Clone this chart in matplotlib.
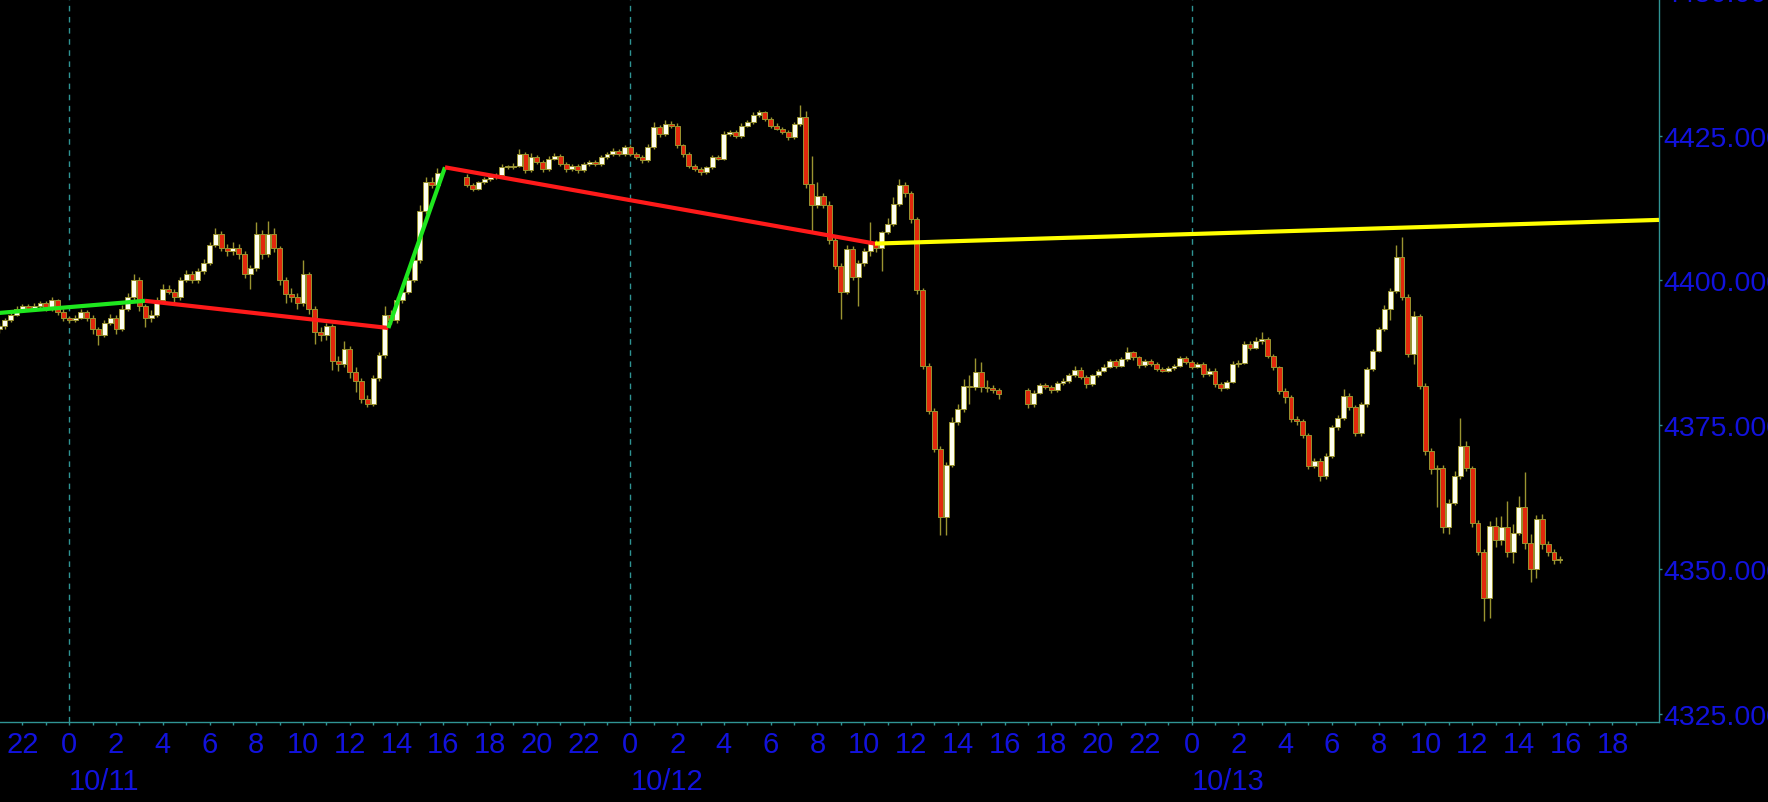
import numpy as np
import matplotlib
matplotlib.use("Agg")
import matplotlib.pyplot as plt
from matplotlib.ticker import FixedLocator, MultipleLocator, FuncFormatter, FormatStrFormatter

# ---------------- data (x in hours from 10/11 00:00, 15-minute candles) ----------------
session_starts = [-3.0, 17.0, 41.0]
bar_hours = 0.25

open_A0 = 4391.5
close_A = [4392.0, 4393.0, 4394.0, 4395.0, 4395.5, 4395.0, 4395.5, 4396.0, 4395.0, 4396.5,
           4394.5, 4393.5, 4393.0, 4393.5, 4394.5, 4393.5, 4391.5, 4390.5, 4392.5, 4393.5,
           4391.5, 4395.0, 4397.0, 4400.0, 4395.5, 4393.5, 4394.0, 4396.5, 4398.5, 4398.0,
           4397.0, 4400.0, 4401.0, 4400.0, 4401.5, 4403.0, 4406.0, 4408.0, 4405.5, 4405.0,
           4405.5, 4404.5, 4401.0, 4402.0, 4408.0, 4404.5, 4408.0, 4405.5, 4400.0, 4397.5,
           4397.0, 4396.0, 4401.0, 4395.0, 4391.0, 4390.5, 4392.0, 4386.0, 4385.5, 4388.0,
           4384.0, 4382.5, 4379.5, 4378.5, 4383.0, 4387.0, 4394.0, 4393.0, 4396.5, 4398.0,
           4400.0, 4403.5, 4412.0, 4417.0, 4416.5, 4418.5]
up_A = [.5, .4, .4, .5, .4, .3, .5, .4, .3, .6,
        .3, .4, .3, .4, .5, .3, .4, .4, .5, .6,
        .5, .6, .8, 1.0, .5, .4, .8, .5, .8, .6,
        .4, .6, .8, .5, .5, .6, .6, 1.0, .5, .8,
        1.0, .8, .5, .6, 2.0, .6, 2.2, 1.0, .4, .5,
        1.2, .8, 2.5, .4, .5, .8, .6, .4, .8, 1.5,
        .5, 1.0, .5, .6, .5, .6, 1.5, .8, .6, 1.0,
        .6, .8, 1.0, .8, .8, .8]
dn_A = [.6, .5, .3, .3, .5, .4, .3, .3, .4, .3,
        .5, .6, .5, .3, .3, .6, .8, 1.8, .4, .3,
        .8, .4, .3, .4, .8, 1.6, .8, .4, .3, .5,
        1.0, .4, .4, .6, .5, .4, .4, .3, .5, .8,
        .6, .8, .6, 2.5, .4, .8, .5, .6, .8, 1.5,
        .8, 1.0, .5, .8, 2.0, 1.0, .8, 1.5, 1.2, .5,
        1.0, 1.8, .8, .5, .3, .5, .5, .6, .4, .5,
        .4, .4, .5, .5, .5, .4]

open_B0 = 4417.8
close_B = [4416.4, 4415.8, 4416.9, 4417.5, 4417.8, 4418.2, 4419.5, 4419.5, 4419.8, 4421.8,
           4419.0, 4421.3, 4420.4, 4419.2, 4421.0, 4421.5, 4420.1, 4419.2, 4419.8, 4419.0,
           4420.1, 4420.4, 4420.1, 4421.3, 4421.8, 4422.4, 4421.8, 4423.0, 4421.8, 4421.3,
           4420.8, 4423.0, 4426.5, 4425.3, 4427.0, 4426.7, 4423.3, 4421.8, 4419.8, 4419.2,
           4418.7, 4419.5, 4421.3, 4421.0, 4425.3, 4425.6, 4424.9, 4426.7, 4427.3, 4428.5,
           4429.0, 4427.9, 4426.7, 4426.2, 4425.6, 4424.7, 4427.0, 4428.2, 4416.6, 4413.0,
           4414.5, 4413.0, 4407.0, 4402.5, 4398.0, 4405.4, 4400.5, 4403.0, 4405.0, 4406.5,
           4405.5, 4408.3, 4409.7, 4413.2, 4416.4, 4415.0, 4410.5, 4398.2, 4385.2, 4377.4,
           4370.8, 4359.0, 4368.0, 4375.5, 4377.7, 4381.7, 4381.5, 4384.0, 4381.5, 4381.3,
           4381.0, 4380.3]
up_B = [.5, .4, .3, .3, .3, .4, .5, .4, .5, .8,
        .3, .6, .4, .3, .5, .5, .3, .3, .3, .3,
        .4, .3, .3, .4, .3, .4, .3, .4, .4, .3,
        .3, .5, .8, .3, .6, .5, .4, .3, .3, .3,
        .3, .3, .3, .4, .4, .4, .3, .4, .4, .5,
        .5, .3, .3, .5, .3, .3, .4, 2.1, 1.0, 4.9,
        2.5, .5, .6, .4, .4, .6, .5, .4, .5, 3.5,
        .5, .2, 1.0, 1.2, 1.0, .5, .4, .4, .4, .4,
        .4, .4, .5, .8, .8, 1.2, 1.8, 2.5, 1.8, 1.2,
        .6, .4]
dn_B = [.3, .4, .3, .3, .3, .3, .3, .3, .3, .3,
        .4, .3, .4, .5, .3, .3, .4, .5, .3, .4,
        .3, .3, .3, .3, .3, .3, .3, .3, .4, .4,
        .5, .3, .3, .5, .3, .4, .4, .5, .4, .4,
        .5, .3, .3, .3, .3, .3, .4, .3, .3, .3,
        .3, .4, .4, .3, .4, .4, .3, .3, .6, 4.7,
        .5, .6, .8, .6, 4.7, .4, .5, 5.0, .5, .8,
        .6, 4.0, .4, .4, .4, .6, .6, .6, .6, .6,
        .6, 3.2, 3.2, .4, .5, .5, 3.0, .6, .8, .6,
        .6, .8]

open_C0 = 4381.0
close_C = [4378.5, 4380.5, 4381.8, 4381.5, 4381.0, 4382.2, 4382.5, 4383.5, 4384.5, 4383.3,
           4382.0, 4383.5, 4384.3, 4385.0, 4386.0, 4385.2, 4386.3, 4387.5, 4386.6, 4385.3,
           4386.0, 4385.5, 4384.6, 4384.3, 4384.8, 4385.2, 4386.5, 4385.8, 4385.0, 4385.5,
           4383.7, 4384.3, 4382.0, 4381.4, 4382.4, 4385.5, 4385.7, 4388.9, 4388.3, 4389.5,
           4389.8, 4386.9, 4384.9, 4380.8, 4379.7, 4375.9, 4375.6, 4373.1, 4367.9, 4368.7,
           4366.1, 4369.6, 4374.5, 4376.2, 4380.0, 4378.0, 4373.6, 4378.5, 4384.6, 4387.8,
           4391.5, 4395.0, 4398.1, 4404.0, 4397.0, 4387.2, 4393.8, 4381.7, 4370.5, 4367.3,
           4367.5, 4357.2, 4361.5, 4366.1, 4371.3, 4367.5, 4358.0, 4353.0, 4345.0, 4357.5,
           4355.0, 4357.2, 4352.9, 4356.3, 4360.7, 4354.5, 4350.0, 4358.6, 4354.3, 4352.9,
           4351.5, 4351.7]
up_C = [.4, .4, .4, .4, .4, .4, .6, .4, .6, .4,
        .3, .3, .3, .4, .4, .3, .4, .9, .3, .3,
        .4, .3, .3, .3, .3, .3, .4, .3, .3, .4,
        .3, .4, .5, .4, .3, .5, .4, .6, .5, .6,
        1.2, .4, .3, .3, .5, .4, .5, .4, .4, .5,
        .5, .4, .5, .5, 1.1, .4, .4, .4, .3, .3,
        .4, .6, .5, 2.0, 3.5, .5, .8, .4, .4, .5,
        .5, .5, .6, .8, 4.9, .8, .4, .4, .4, .8,
        1.5, 2.0, 4.6, 1.5, 2.0, 6.0, 1.5, .8, 1.0, .5,
        .5, .6]
dn_C = [.7, .4, .3, .4, .5, .3, .4, .3, .3, .4,
        .6, .3, .3, .3, .3, .4, .3, .3, .4, .5,
        .3, .4, .4, .3, .3, .3, .3, .4, .4, .3,
        .5, .3, .5, .6, .3, .3, .5, .3, .4, .3,
        .5, .4, .4, .5, 1.0, .5, .6, .5, .6, .4,
        .8, .5, .4, .4, .4, .5, .6, .6, .4, .4,
        .3, .4, 2.0, .4, .5, .6, 1.7, .6, .8, .8,
        6.5, 1.0, 1.2, .5, .5, .6, .8, .6, 4.0, 3.5,
        1.2, .8, .8, 1.9, .5, 1.0, 2.3, 1.5, .8, .6,
        .6, .5]

# zig-zag trend lines (hour, price) and their colours
trend_x = [-3.0, 3.24, 13.65, 16.07, 34.46, 67.99]
trend_y = [4394.3, 4396.4, 4391.7, 4419.5, 4406.3, 4410.4]
trend_colors = ["#1ee81e", "#ff1a1a", "#1ee81e", "#ff1a1a", "#ffff00"]

day_hours = [0, 24, 48]
day_labels = ["10/11", "10/12", "10/13"]
y_ticks = [4325, 4350, 4375, 4400, 4425, 4450]

# ---------------- styling ----------------
BG = "black"
TEAL = "#2f9494"
BLUE = "#1212dc"
WICK = "#9a9430"
BULL = "#fffff0"
BEAR = "#e2280c"
FONT = ["Liberation Sans", "DejaVu Sans"]

W, H, DPI = 1768, 803, 100
fig = plt.figure(figsize=(W / DPI, H / DPI), dpi=DPI, facecolor=BG)
left_px, right_px, bottom_px, top_px = 0, 1659, 723, -20
ax = fig.add_axes([left_px / W, (H - bottom_px) / H,
                   (right_px - left_px) / W, (bottom_px - top_px) / H])
ax.set_facecolor(BG)
ax.set_xlim(-2.96, 67.99)
ax.set_ylim(4323.53, 4452.08)

# day separators
for d in day_hours:
    ax.axvline(d, color=TEAL, lw=1.0, ls=(0, (4, 4)), zorder=1)

segments = [(open_A0, close_A, up_A, dn_A),
            (open_B0, close_B, up_B, dn_B),
            (open_C0, close_C, up_C, dn_C)]
for start, (o0, cl, up, dn) in zip(session_starts, segments):
    c = np.array(cl)
    o = np.concatenate([[o0], c[:-1]])
    x = start + bar_hours * np.arange(len(c))
    hi = np.maximum(o, c) + np.array(up)
    lo = np.minimum(o, c) - np.array(dn)
    ax.vlines(x, lo, hi, color=WICK, lw=1.0, zorder=2)
    body_h = np.maximum(np.abs(c - o), 0.15)
    cols = [BULL if ci >= oi else BEAR for oi, ci in zip(o, c)]
    ax.bar(x, body_h, bottom=np.minimum(o, c), width=0.21, color=cols,
           edgecolor=WICK, linewidth=0.7, zorder=3, align="center")

for i, col in enumerate(trend_colors):
    ax.plot(trend_x[i:i + 2], trend_y[i:i + 2], color=col, lw=3.0,
            solid_capstyle="butt", zorder=4)

# axes / ticks
for s in ["left", "top"]:
    ax.spines[s].set_visible(False)
for s in ["right", "bottom"]:
    ax.spines[s].set_color(TEAL)
    ax.spines[s].set_linewidth(1.0)

ax.xaxis.set_major_locator(FixedLocator(np.arange(-2, 68, 2)))
ax.xaxis.set_minor_locator(MultipleLocator(1))
ax.xaxis.set_major_formatter(FuncFormatter(lambda v, p: f"{int(round(v)) % 24}"))
ax.tick_params(axis="x", which="both", direction="out", length=2.5, width=1,
               color=TEAL, labelcolor=BLUE, labelsize=21, pad=3)

ax.yaxis.tick_right()
ax.set_yticks(y_ticks)
ax.yaxis.set_major_formatter(FormatStrFormatter("%.3f"))
ax.tick_params(axis="y", which="both", direction="out", length=2.5, width=1,
               color=TEAL, labelcolor=BLUE, labelsize=20.5, pad=1)
for lab in ax.get_xticklabels() + ax.get_yticklabels():
    lab.set_family(FONT)

for d, lab in zip(day_hours, day_labels):
    ax.text(d, -0.079, lab, transform=ax.get_xaxis_transform(), ha="left",
            va="center", color=BLUE, fontsize=21, family=FONT, clip_on=False)

fig.savefig("out.png", dpi=DPI, facecolor=BG)
